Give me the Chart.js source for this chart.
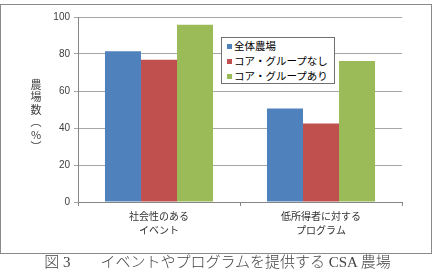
<!DOCTYPE html>
<html>
<head>
<meta charset="utf-8">
<script src="https://cdn.jsdelivr.net/npm/chart.js@4/dist/chart.umd.min.js"></script>
<style>
    body { margin: 0; background: #fff; }
    #wrap { position: relative; width: 435px; height: 272px; overflow: hidden; }
    #frame { position: absolute; left: 0; top: 4px; width: 430px; height: 248px; border: 1px solid #8a8a8a; }
    #chart { position: absolute; left: 0; top: 0; }
    #ytitle {
        position: absolute; left: 29px; top: 79px; width: 14px; height: 70px;
        writing-mode: vertical-rl; text-orientation: upright; white-space: nowrap;
        font: 11px "Noto Sans CJK JP"; line-height: 14px; letter-spacing: 1.5px; color: #404040;
    }
    #legend {
        position: absolute; left: 221px; top: 37px; width: 112px;
        border: 1px solid #707070; background: #fff;
        font: 10.5px "Noto Sans CJK JP"; color: #000;
    }
    #legend div { height: 15px; line-height: 15px; white-space: nowrap; }
    #legend span { display: inline-block; width: 5px; height: 5px; margin: 0 2px 0 5px; vertical-align: 1px; }
    #caption {
        position: absolute; left: 0; width: 435px; top: 253px; text-align: center;
        font: 15px "Liberation Serif", "Noto Sans CJK JP"; font-weight: 300; color: #444; line-height: 18px; white-space: pre;
    }
</style>
</head>
<body>
<div id="wrap">
    <div id="frame"></div>
    <canvas id="chart" width="435" height="272"></canvas>
    <div id="ytitle">農場数（%）</div>
    <div id="legend"></div>
    <div id="caption">図 3　　イベントやプログラムを提供する CSA 農場</div>
</div>
<script>
// データ
var categories = [['社会性のある', 'イベント'], ['低所得者に対する', 'プログラム']];
var seriesNames = ['全体農場', 'コア・グループなし', 'コア・グループあり'];
var allFarms = [81.5, 50.6];
var noCoreGroup = [76.9, 42.5];
var withCoreGroup = [95.8, 76.2];
var yTicks = [0, 20, 40, 60, 80, 100];
var colors = ['#4f81bd', '#c0504d', '#9bbb59'];

window.onload = function() {
    var values = [allFarms, noCoreGroup, withCoreGroup];
    var datasets = [];
    for (var i = 0; i < seriesNames.length; i++) {
        datasets.push({
            label: seriesNames[i],
            data: values[i],
            backgroundColor: colors[i],
            borderWidth: 0,
            categoryPercentage: 0.667,
            barPercentage: 1.0
        });
    }

    // 凡例 (HTML)
    var legend = document.getElementById('legend');
    var html = '';
    for (var j = 0; j < seriesNames.length; j++) {
        html += '<div><span style="background:' + colors[j] + '"></span>' + seriesNames[j] + '</div>';
    }
    legend.innerHTML = html;

    new Chart(document.getElementById('chart'), {
        type: 'bar',
        data: { labels: categories, datasets: datasets },
        options: {
            responsive: false,
            animation: false,
            layout: { padding: { left: 0, top: 17, right: 33, bottom: 30 } },
            plugins: { legend: { display: false }, tooltip: { enabled: false } },
            scales: {
                x: {
                    afterFit: function(s) { s.height = 40; },
                    grid: { display: true, drawOnChartArea: false, offset: true, tickLength: 4, color: '#868686' },
                    border: { color: '#868686' },
                    ticks: {
                        padding: 3, color: '#333', maxRotation: 0,
                        font: { family: '"Noto Sans CJK JP"', size: 10, lineHeight: 1.4 }
                    }
                },
                y: {
                    min: 0, max: 100,
                    afterFit: function(s) { s.width = 78; },
                    afterBuildTicks: function(s) {
                        s.ticks = yTicks.map(function(v) { return { value: v }; });
                    },
                    grid: { color: '#a6a6a6', tickLength: 4 },
                    border: { color: '#868686' },
                    ticks: {
                        padding: 4, color: '#404040',
                        font: { family: '"Liberation Sans"', size: 10 }
                    }
                }
            }
        }
    });
};
</script>
</body>
</html>
